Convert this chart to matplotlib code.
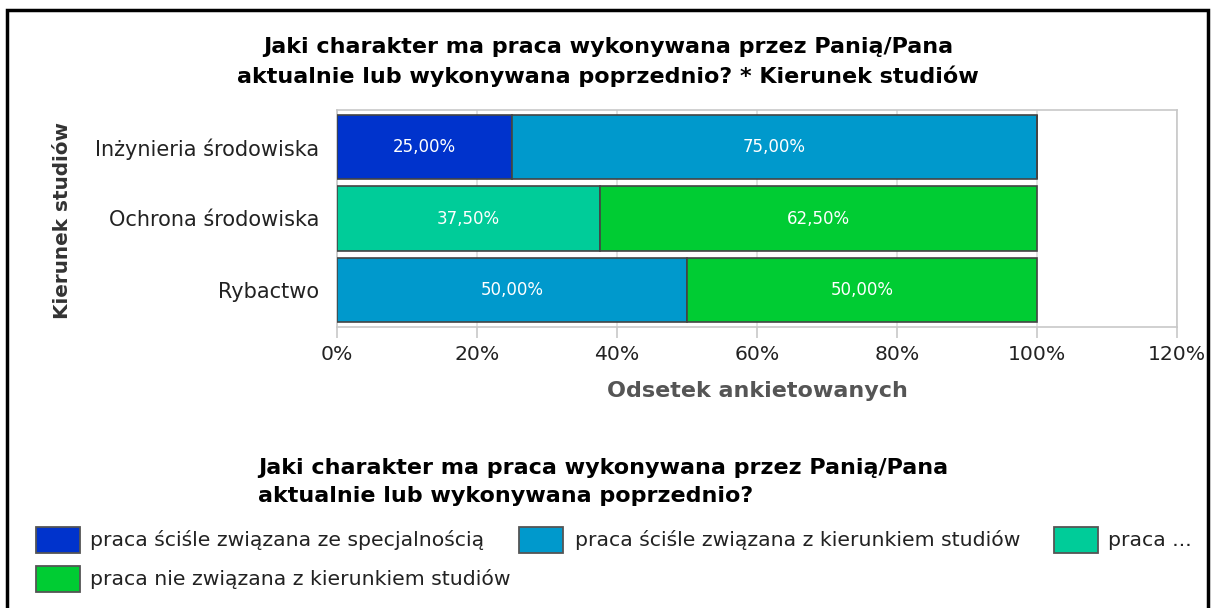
import matplotlib.pyplot as plt
import matplotlib.patches as patches
import numpy as np

# --- Data ---
categories = ["Inżynieria środowiska", "Ochrona środowiska", "Rybactwo"]
series_names = [
    "praca ściśle związana ze specjalnością",
    "praca ściśle związana z kierunkiem studiów",
    "praca ...",
    "praca nie związana z kierunkiem studiów",
]
spec = [25.0, 0.0, 0.0]
kierunek = [75.0, 0.0, 50.0]
czesciowo = [0.0, 37.5, 0.0]
nie_zwiazana = [0.0, 62.5, 50.0]
series_values = [spec, kierunek, czesciowo, nie_zwiazana]
colors = ["#0033cc", "#0099cc", "#00cc99", "#00cc33"]
xticks = [0, 20, 40, 60, 80, 100, 120]

title = "Jaki charakter ma praca wykonywana przez Panią/Pana\naktualnie lub wykonywana poprzednio? * Kierunek studiów"
legend_title = "Jaki charakter ma praca wykonywana przez Panią/Pana\naktualnie lub wykonywana poprzednio?"

# --- Figure ---
W, H = 1216, 608
fig = plt.figure(figsize=(W / 100, H / 100), dpi=100)
ax = fig.add_axes([337 / W, 1 - 327 / H, 840 / W, 217 / H])

y = np.arange(len(categories))
left = np.zeros(len(categories))
for vals, col in zip(series_values, colors):
    vals = np.array(vals)
    bars = ax.barh(y, vals, left=left, height=0.9, color=col,
                   edgecolor="#444444", linewidth=1.2, zorder=3)
    for b, v, l in zip(bars, vals, left):
        if v > 0:
            ax.text(l + v / 2, b.get_y() + b.get_height() / 2,
                    f"{v:.2f}%".replace(".", ","), color="white",
                    ha="center", va="center", fontsize=12, zorder=4)
    left += vals

ax.set_xlim(0, 120)
ax.set_ylim(len(categories) - 0.5 + 0.02, -0.5 - 0.02)
ax.set_xticks(xticks)
ax.set_xticklabels([f"{t}%" for t in xticks], fontsize=14.7, color="#222222")
ax.set_yticks(y)
ax.set_yticklabels(categories, fontsize=15, color="#222222")
ax.tick_params(axis="y", length=0, pad=13)
ax.tick_params(axis="x", length=8, color="#c8c8c8", width=1.2, pad=5)
ax.grid(axis="x", color="#dddddd", lw=1.2, zorder=0)
for s in ax.spines.values():
    s.set_color("#c8c8c8")
    s.set_linewidth(1.2)

ax.set_xlabel("Odsetek ankietowanych", fontsize=16, fontweight="bold",
              color="#555555", labelpad=12)
fig.text(62 / W, 1 - 220 / H, "Kierunek studiów", rotation=90, fontsize=14.4,
         fontweight="bold", color="#333333", ha="center", va="center")

fig.text(0.5, 1 - 62 / H, title, ha="center", va="center", fontsize=16,
         fontweight="bold", linespacing=1.5)

# --- Legend (drawn manually below the chart) ---
fig.text(258 / W, 1 - 482 / H, legend_title, ha="left", va="center",
         fontsize=16, fontweight="bold", linespacing=1.5)

patch_x = [36, 519, 1054, 36]
text_x = [90, 575, 1108, 90]
row_y = [540, 540, 540, 579]
for px, tx, py, name, col in zip(patch_x, text_x, row_y, series_names, colors):
    fig.patches.append(patches.Rectangle((px / W, 1 - (py + 13) / H), 44 / W, 26 / H,
                                         transform=fig.transFigure, facecolor=col,
                                         edgecolor="#555555", linewidth=1.3))
    fig.text(tx / W, 1 - py / H, name, ha="left", va="center",
             fontsize=14.7, color="#222222")

# outer frame
fig.patches.append(patches.Rectangle((7 / W, -0.05), 1201 / W, 1 - 10 / H + 0.05,
                                     transform=fig.transFigure, fill=False,
                                     edgecolor="black", linewidth=2.5))

plt.savefig("out.png", dpi=100)
